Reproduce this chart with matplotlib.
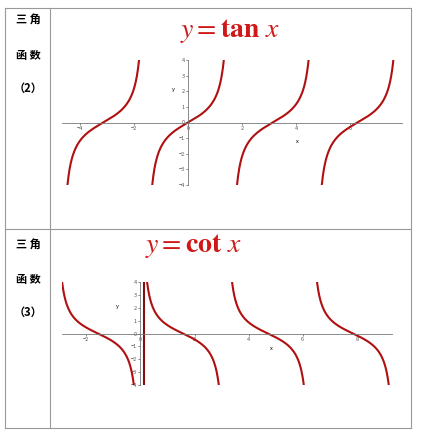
import numpy as np
import matplotlib.pyplot as plt

plt.rcParams['font.family'] = ['Noto Sans CJK SC', 'DejaVu Sans']
plt.rcParams['mathtext.fontset'] = 'stix'

W, H = 424, 433
tan_centers = [-np.pi, 0, np.pi, 2 * np.pi]
cot_centers = [-np.pi / 2, np.pi / 2, 3 * np.pi / 2, 5 * np.pi / 2]
tan_xticks = [-4, -2, 0, 2, 4, 6]
cot_xticks = [-2, 0, 2, 4, 6, 8]
yticks = [-4, -3, -2, -1, 0, 1, 2, 3, 4]
row_labels = [['三 角', '函 数', '（2）'], ['三 角', '函 数', '（3）']]

fig = plt.figure(figsize=(W / 100, H / 100), dpi=100)
bg = fig.add_axes([0, 0, 1, 1])
bg.set_xlim(0, W)
bg.set_ylim(H, 0)
bg.axis('off')

# table grid
lc = '#999999'
for y in [8, 229, 428]:
    bg.plot([5, 411], [y, y], color=lc, lw=0.8)
for x in [5, 50, 411]:
    bg.plot([x, x], [8, 428], color=lc, lw=0.8)

for labels, ys in zip(row_labels, [[20, 55, 88], [245, 279, 312]]):
    for t, y in zip(labels, ys):
        bg.text(28, y, t, ha='center', va='center', fontsize=8, fontweight='bold')

bg.text(230, 30, r'$\mathit{y}=\mathbf{tan}\ \mathit{x}$', color='#d01818',
        fontsize=20, ha='center', va='center')
bg.text(193, 245, r'$\mathit{y}=\mathbf{cot}\ \mathit{x}$', color='#d01818',
        fontsize=20, ha='center', va='center')


def make_ax(x0, x1, px0, px1, py_top, py_bot):
    ax = fig.add_axes([px0 / W, 1 - py_bot / H, (px1 - px0) / W, (py_bot - py_top) / H])
    ax.set_xlim(x0, x1)
    ax.set_ylim(-4, 4)
    ax.patch.set_alpha(0)
    for s in ['top', 'right']:
        ax.spines[s].set_visible(False)
    ax.spines['left'].set_position('zero')
    ax.spines['bottom'].set_position('zero')
    for s in ['left', 'bottom']:
        ax.spines[s].set_color('#777777')
        ax.spines[s].set_linewidth(0.6)
    ax.tick_params(labelsize=4, colors='#555555', length=1.5, width=0.5, pad=1)
    ax.set_yticks(yticks)
    return ax


red = '#b01010'
arc = np.arctan(4)

ax1 = make_ax(-4.67, 7.93, 62, 402, 60, 185)
ax1.set_xticks(tan_xticks)
for c in tan_centers:
    t = np.linspace(c - arc, c + arc, 200)
    ax1.plot(t, np.tan(t), color=red, lw=1.5)
ax1.text(-0.6, 2, 'y', fontsize=4)
ax1.text(4, -1.3, 'x', fontsize=4)

ax2 = make_ax(-2.9, 9.3, 62, 392, 282, 385)
ax2.set_xticks(cot_xticks)
for c in cot_centers:
    t = np.linspace(c - arc, c + arc, 200)
    ax2.plot(t, 1 / np.tan(t), color=red, lw=1.5)
ax2.plot([0.12, 0.12], [-4, 4], color='#801010', lw=1.5)
ax2.text(-0.9, 2, 'y', fontsize=4)
ax2.text(4.8, -1.3, 'x', fontsize=4)

fig.savefig('out.png', dpi=100)
